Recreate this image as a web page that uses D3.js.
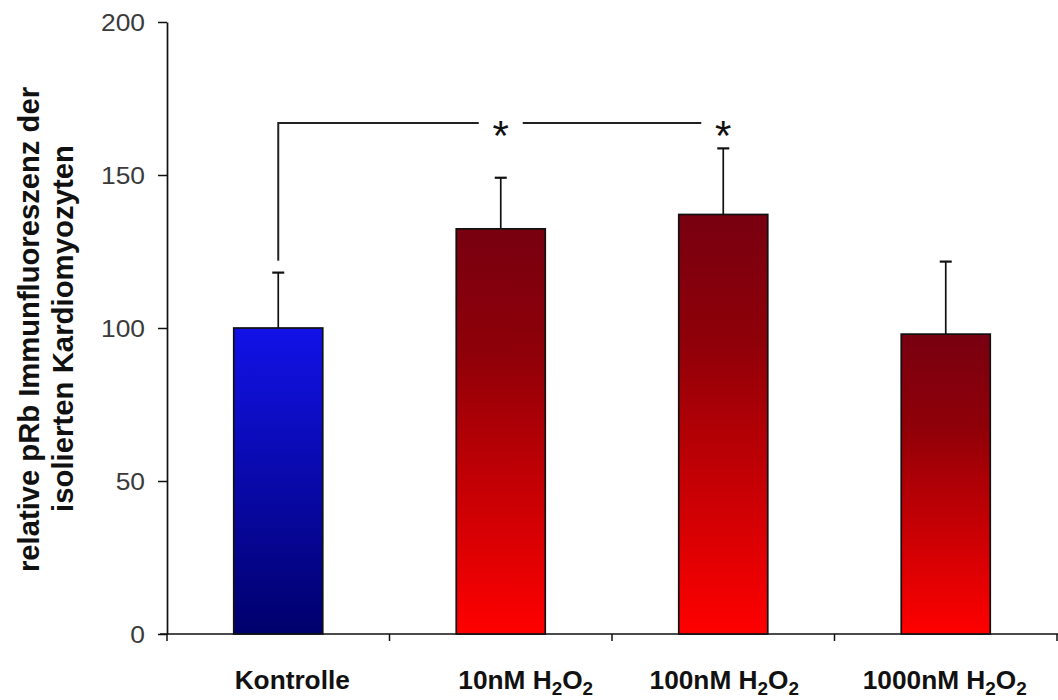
<!DOCTYPE html>
<html>
<head>
<meta charset="utf-8">
<script src="https://cdn.jsdelivr.net/npm/d3@7"></script>
<style>
  body { margin: 0; background: #fff; }
  svg { display: block; }
  text { font-family: "Liberation Sans", Arial, sans-serif; }
</style>
</head>
<body>
<svg id="chart" width="1058" height="700"></svg>
<script>
// Relative pRb immunofluorescence, control vs. H2O2 concentrations
const categories = ["Kontrolle", "10nM", "100nM", "1000nM"];
const means = [100, 132.4, 137.1, 98.0];
const errors = [18.1, 16.7, 21.6, 23.7];
const yTicks = [0, 50, 100, 150, 200];
// label pieces: [text, subscript?]
const categoryLabels = [
  [["Kontrolle", false]],
  [["10nM H", false], ["2", true], ["O", false], ["2", true]],
  [["100nM H", false], ["2", true], ["O", false], ["2", true]],
  [["1000nM H", false], ["2", true], ["O", false], ["2", true]]
];
const titleLines = ["relative pRb Immunfluoreszenz der", "isolierten Kardiomyozyten"];
const bracketFrom = "Kontrolle";
const starred = ["10nM", "100nM"];
const bracketLevel = 167;
const bracketDrop = 122;

const svg = d3.select("#chart");

const y = d3.scaleLinear().domain([0, 200]).range([634, 22]);
const x = d3.scaleBand().domain(categories).range([167, 1057])
  .paddingInner(0.6).paddingOuter(0.3);
const step = x.step();
const cx = c => x(c) + x.bandwidth() / 2;

// gradients
const defs = svg.append("defs");
function grad(id, stops) {
  const g = defs.append("linearGradient").attr("id", id)
    .attr("x1", 0).attr("y1", 0).attr("x2", 0).attr("y2", 1);
  stops.forEach(([o, c]) => g.append("stop").attr("offset", o).attr("stop-color", c));
}
grad("gBlue", [["0%", "#1212e8"], ["100%", "#00006c"]]);
grad("gRed", [["0%", "#780010"], ["30%", "#8e0008"], ["100%", "#ff0000"]]);

// y axis
const yAxis = svg.append("g").attr("transform", "translate(167,0)")
  .call(d3.axisLeft(y).tickValues(yTicks).tickSize(9).tickSizeOuter(0).tickPadding(13));
yAxis.select(".domain").attr("stroke", "#111").attr("stroke-width", 1.7);
yAxis.selectAll(".tick line").attr("stroke", "#111").attr("stroke-width", 1.5);
yAxis.selectAll(".tick text").each(function() {
  const t = d3.select(this);
  const tx = +t.attr("x");
  t.attr("x", 0).attr("transform", `translate(${tx},0) scale(1.1,1)`)
    .attr("font-size", 24).attr("fill", "#3a3a3a").attr("dy", "0.36em");
});

// x axis line with ticks at category boundaries
const boundaries = categories.map(c => x(c) - step * x.paddingInner() / 2)
  .concat([x(categories[categories.length - 1]) + x.bandwidth() + step * x.paddingInner() / 2]);
svg.append("line").attr("x1", 160).attr("x2", 1058).attr("y1", y(0)).attr("y2", y(0))
  .attr("stroke", "#111").attr("stroke-width", 1.7);
svg.selectAll(".xtick").data(boundaries).join("line").attr("class", "xtick")
  .attr("x1", d => d).attr("x2", d => d).attr("y1", y(0)).attr("y2", y(0) + 7)
  .attr("stroke", "#111").attr("stroke-width", 1.5);

// bars
const data = categories.map((c, i) => ({ c, m: means[i], e: errors[i] }));
svg.selectAll(".bar").data(data).join("rect").attr("class", "bar")
  .attr("x", d => x(d.c)).attr("width", x.bandwidth())
  .attr("y", d => y(d.m)).attr("height", d => y(0) - y(d.m))
  .attr("fill", (d, i) => i === 0 ? "url(#gBlue)" : "url(#gRed)")
  .attr("stroke", "#111").attr("stroke-width", 1.7);

// error bars (upper only)
const capHalf = 6;
svg.selectAll(".err").data(data).join("line").attr("class", "err")
  .attr("x1", d => cx(d.c)).attr("x2", d => cx(d.c))
  .attr("y1", d => y(d.m)).attr("y2", d => y(d.m + d.e))
  .attr("stroke", "#111").attr("stroke-width", 1.7);
svg.selectAll(".cap").data(data).join("line").attr("class", "cap")
  .attr("x1", d => cx(d.c) - capHalf).attr("x2", d => cx(d.c) + capHalf)
  .attr("y1", d => y(d.m + d.e)).attr("y2", d => y(d.m + d.e))
  .attr("stroke", "#111").attr("stroke-width", 2.2);

// significance bracket with star markers
const gap = 22;
const bx0 = cx(bracketFrom);
const starX = starred.map(cx);
const segs = [];
let start = bx0;
starX.forEach(sx => { segs.push([start, sx - gap]); start = sx + gap; });
svg.append("line").attr("x1", bx0).attr("x2", bx0)
  .attr("y1", y(bracketLevel) - 1).attr("y2", y(bracketDrop))
  .attr("stroke", "#222").attr("stroke-width", 2);
svg.selectAll(".seg").data(segs).join("line").attr("class", "seg")
  .attr("x1", d => d[0]).attr("x2", d => d[1])
  .attr("y1", y(bracketLevel)).attr("y2", y(bracketLevel))
  .attr("stroke", "#222").attr("stroke-width", 2);
svg.selectAll(".star").data(starX).join("text").attr("class", "star")
  .attr("x", d => d).attr("y", y(bracketLevel) + 27)
  .attr("text-anchor", "middle").attr("font-size", 42)
  .attr("fill", "#111").text("*");

// category labels
const labelNudge = [14, 25, 1, -1];
categoryLabels.forEach((parts, i) => {
  const t = svg.append("text")
    .attr("transform", `translate(${cx(categories[i]) + labelNudge[i]},689) scale(1.05,1)`)
    .attr("text-anchor", "middle").attr("font-size", 25).attr("font-weight", "bold")
    .attr("fill", "#111");
  parts.forEach(([s, sub], k) => {
    const ts = t.append("tspan").text(s);
    if (sub) ts.attr("font-size", 18).attr("dy", 6);
    else if (k > 0 && parts[k - 1][1]) ts.attr("dy", -6);
  });
});

// rotated y-axis title
const titlePos = [{ x: 39, y: 329.5, len: 485 }, { x: 73, y: 328.5, len: 367 }];
titleLines.forEach((line, i) => {
  svg.append("text")
    .attr("transform", `translate(${titlePos[i].x},${titlePos[i].y}) rotate(-90)`)
    .attr("text-anchor", "middle").attr("font-size", 30).attr("font-weight", "bold")
    .attr("fill", "#111")
    .attr("textLength", titlePos[i].len).attr("lengthAdjust", "spacingAndGlyphs")
    .text(line);
});
</script>
</body>
</html>
